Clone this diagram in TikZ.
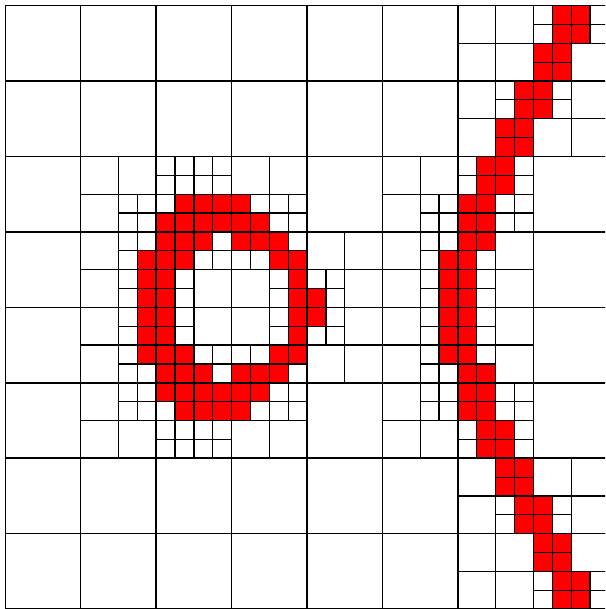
\documentclass[tikz,border=0pt]{standalone}
\begin{document}
\begin{tikzpicture}[cellline/.style={line width=1.2pt, black}, coarseline/.style={line width=1.5pt, black}]
\useasboundingbox (0,0) rectangle (605pt,-609pt);
\clip (0,0) rectangle (605pt,-609pt);
\fill[white] (0,0) rectangle (605pt,-609pt);
\begin{scope}[shift={(5.3pt,-5.6pt)}, x=18.86pt, y=-18.86pt]
% red cells
\foreach \c/\r in {
 9/10,10/10,11/10,12/10,
 8/11,9/11,10/11,11/11,12/11,13/11,
 8/12,9/12,10/12,12/12,13/12,14/12,
 7/13,8/13,9/13,14/13,15/13,
 7/14,8/14,15/14,
 7/15,8/15,15/15,16/15,
 7/16,8/16,15/16,16/16,
 7/17,8/17,15/17,
 7/18,8/18,9/18,14/18,15/18,
 8/19,9/19,10/19,12/19,13/19,14/19,
 8/20,9/20,10/20,11/20,12/20,13/20,
 9/21,10/21,11/21,12/21,
 29/0,30/0,29/1,30/1,
 28/2,29/2,28/3,29/3,
 27/4,28/4,27/5,28/5,
 26/6,27/6,26/7,27/7,
 25/8,26/8,25/9,26/9,
 24/10,25/10,24/11,25/11,24/12,25/12,
 23/13,24/13,23/14,24/14,23/15,24/15,23/16,24/16,23/17,24/17,23/18,24/18,
 24/19,25/19,24/20,25/20,24/21,25/21,
 25/22,26/22,25/23,26/23,
 26/24,27/24,26/25,27/25,
 27/26,28/26,27/27,28/27,
 28/28,29/28,28/29,29/29,
 29/30,30/30,29/31,30/31}
 {\fill[red] (\c,\r) rectangle ++(1,1);
  \draw[cellline] (\c,\r) rectangle ++(1,1);}
% subdivided coarse cells
\foreach \I/\J in {6/0,7/0,6/1,7/1,
 1/2,2/2,3/2,5/2,6/2,
 1/3,2/3,3/3,4/3,5/3,6/3,
 1/4,2/4,3/4,4/4,5/4,6/4,
 1/5,2/5,3/5,5/5,6/5,
 6/6,7/6,6/7,7/7}
 {\draw[cellline] ({4*\I+2},{4*\J}) -- ++(0,4);
  \draw[cellline] ({4*\I},{4*\J+2}) -- ++(4,0);}
% subdivided 2x2 cells
\foreach \c/\r in {28/0,30/0,26/4,28/4,
 6/10,8/8,10/8,8/10,10/10,12/10,14/10,22/10,24/8,26/8,26/10,
 6/12,6/14,8/12,10/12,8/14,12/12,14/12,14/14,16/14,22/12,22/14,24/12,24/14,
 6/16,6/18,8/16,8/18,10/18,12/18,14/18,14/16,16/16,22/16,22/18,24/16,24/18,
 6/20,8/20,10/20,8/22,10/22,12/20,14/20,22/20,24/20,26/20,24/22,26/22,
 26/26,28/26,28/30,30/30}
 {\draw[cellline] ({\c+1},\r) -- ++(0,2);
  \draw[cellline] (\c,{\r+1}) -- ++(2,0);}
% coarse grid
\foreach \i in {0,4,...,32} {
 \draw[coarseline] (\i,0) -- (\i,32);
 \draw[coarseline] (0,\i) -- (32,\i);
}
\end{scope}
\end{tikzpicture}
\end{document}
